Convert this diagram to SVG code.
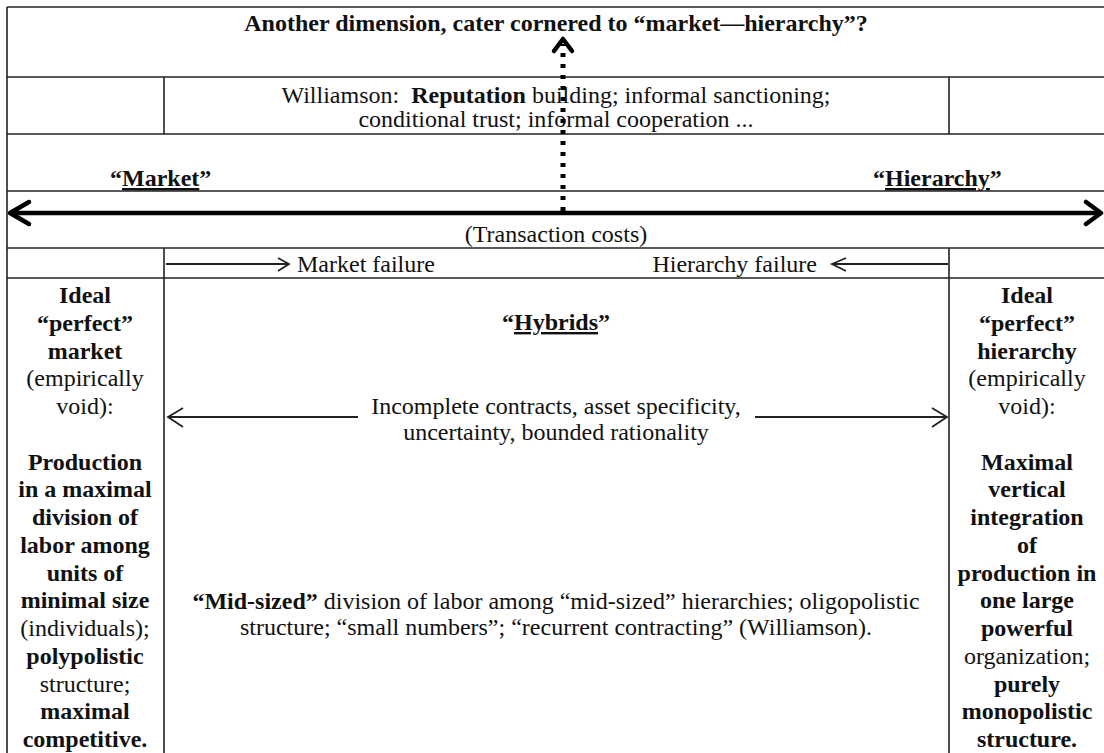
<svg xmlns="http://www.w3.org/2000/svg" width="1104" height="753" viewBox="0 0 1104 753">
<style>
text { font-family: "Liberation Serif", "Times New Roman", "DejaVu Serif", serif; font-size: 24px; fill: #111; }
.c { text-anchor: middle; }
.b { font-weight: bold; }
.u { text-decoration: underline; }
.grid line { stroke: #222; stroke-width: 1.6; }
.thin { stroke: #222; stroke-width: 1.8; fill: none; }
.thick { stroke: #000; stroke-width: 4.5; fill: none; stroke-linecap: round; stroke-linejoin: round; }
</style>
<rect width="1104" height="753" fill="#fff"/>
<g id="grid" class="grid">
<line x1="7" y1="7" x2="1104" y2="7"/>
<line x1="7" y1="77" x2="1104" y2="77"/>
<line x1="7" y1="134" x2="1104" y2="134"/>
<line x1="7" y1="191" x2="1104" y2="191"/>
<line x1="7" y1="248" x2="1104" y2="248"/>
<line x1="7" y1="278" x2="1104" y2="278"/>
<line x1="7" y1="7" x2="7" y2="753"/>
<line x1="164" y1="77" x2="164" y2="134"/>
<line x1="949" y1="77" x2="949" y2="134"/>
<line x1="164" y1="248" x2="164" y2="753"/>
<line x1="949" y1="248" x2="949" y2="753"/>
</g>
<g id="title">
<text class="c b" x="556" y="31">Another dimension, cater cornered to “market—hierarchy”?</text>
</g>
<g id="williamson">
<text class="c" x="556" y="103">Williamson:&#160; <tspan class="b">Reputation</tspan> building; informal sanctioning;</text>
<text class="c" x="556" y="127">conditional trust; informal cooperation ...</text>
</g>
<g id="market-label">
<text class="b" x="110" y="186">“<tspan class="u">Market</tspan>”</text>
</g>
<g id="hierarchy-label">
<text class="b" x="873" y="186">“<tspan class="u">Hierarchy</tspan>”</text>
</g>
<g id="transaction-costs">
<text class="c" x="556" y="242">(Transaction costs)</text>
</g>
<g id="market-failure">
<text x="297" y="272">Market failure</text>
</g>
<g id="hierarchy-failure">
<text text-anchor="end" x="817" y="272">Hierarchy failure</text>
</g>
<g id="ideal-market">
<text class="c b" x="85" y="303">Ideal</text>
<text class="c b" x="85" y="330.75">“perfect”</text>
<text class="c b" x="85" y="358.5">market</text>
<text class="c" x="85" y="386.25">(empirically</text>
<text class="c" x="85" y="414">void):</text>
<text class="c b" x="85" y="469.5">Production</text>
<text class="c b" x="85" y="497.25">in a maximal</text>
<text class="c b" x="85" y="525">division of</text>
<text class="c b" x="85" y="552.75">labor among</text>
<text class="c b" x="85" y="580.5">units of</text>
<text class="c b" x="85" y="608.25">minimal size</text>
<text class="c" x="85" y="636">(individuals);</text>
<text class="c b" x="85" y="663.75">polypolistic</text>
<text class="c" x="85" y="691.5">structure;</text>
<text class="c b" x="85" y="719.25">maximal</text>
<text class="c b" x="85" y="747">competitive.</text>
</g>
<g id="hybrids">
<text class="c b" x="556" y="330">“<tspan class="u">Hybrids</tspan>”</text>
<text class="c" x="556" y="414">Incomplete contracts, asset specificity,</text>
<text class="c" x="556" y="440">uncertainty, bounded rationality</text>
<text class="c" x="556" y="609"><tspan class="b">“Mid-sized”</tspan> division of labor among “mid-sized” hierarchies; oligopolistic</text>
<text class="c" x="556" y="635">structure; “small numbers”; “recurrent contracting” (Williamson).</text>
</g>
<g id="ideal-hierarchy">
<text class="c b" x="1027" y="303">Ideal</text>
<text class="c b" x="1027" y="330.75">“perfect”</text>
<text class="c b" x="1027" y="358.5">hierarchy</text>
<text class="c" x="1027" y="386.25">(empirically</text>
<text class="c" x="1027" y="414">void):</text>
<text class="c b" x="1027" y="469.5">Maximal</text>
<text class="c b" x="1027" y="497.25">vertical</text>
<text class="c b" x="1027" y="525">integration</text>
<text class="c b" x="1027" y="552.75">of</text>
<text class="c b" x="1027" y="580.5">production in</text>
<text class="c b" x="1027" y="608.25">one large</text>
<text class="c b" x="1027" y="636">powerful</text>
<text class="c" x="1027" y="663.75">organization;</text>
<text class="c b" x="1027" y="691.5">purely</text>
<text class="c b" x="1027" y="719.25">monopolistic</text>
<text class="c b" x="1027" y="747">structure.</text>
</g>
<g id="connectors">
<line class="thick" x1="11" y1="213" x2="1100" y2="213"/>
<polyline class="thick" points="29,202 10,213 29,224"/>
<polyline class="thick" points="1086,202 1101,213 1086,224"/>
<line x1="563" y1="211" x2="563" y2="44" stroke="#000" stroke-width="5" stroke-dasharray="4 7"/>
<polyline class="thick" points="554,51 563,39 572,51"/>
<line class="thin" x1="166" y1="264" x2="288" y2="264"/>
<polyline class="thin" points="278,258 289,264 278,271"/>
<line class="thin" x1="948" y1="264" x2="833" y2="264"/>
<polyline class="thin" points="846,258 832,264 846,271"/>
<line class="thin" x1="358" y1="417" x2="168" y2="417"/>
<polyline class="thin" points="183,408 168,417 183,427"/>
<line class="thin" x1="755" y1="417" x2="947" y2="417"/>
<polyline class="thin" points="932,408 947,417 932,427"/>
</g>
</svg>
